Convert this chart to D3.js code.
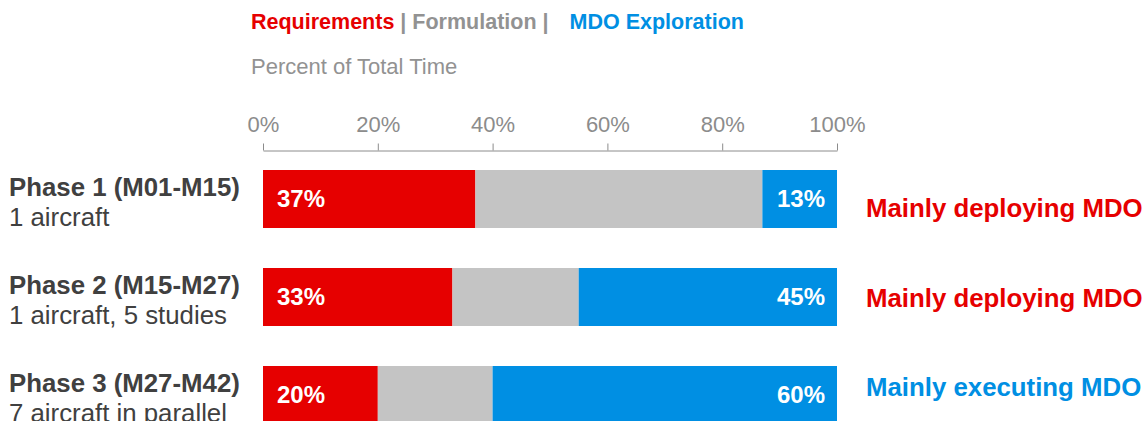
<!DOCTYPE html>
<html><head><meta charset="utf-8">
<script src="https://cdn.jsdelivr.net/npm/d3@7"></script>
<style>body{margin:0;background:#fff;}svg{display:block;font-family:"Liberation Sans",Arial,sans-serif;}</style>
</head><body><svg id="c" width="1148" height="421"></svg>
<script>
const phases = ["Phase 1 (M01-M15)", "Phase 2 (M15-M27)", "Phase 3 (M27-M42)"];
const subtitles = ["1 aircraft", "1 aircraft, 5 studies", "7 aircraft in parallel"];
const requirements = [37, 33, 20];
const formulation = [50, 22, 20];
const exploration = [13, 45, 60];
const notes = ["Mainly deploying MDO", "Mainly deploying MDO", "Mainly executing MDO"];
const noteSeries = ["Requirements", "Requirements", "MDO Exploration"];
const seriesNames = ["Requirements", "Formulation", "MDO Exploration"];
const tickValues = [0, 20, 40, 60, 80, 100];

const colors = {"Requirements": "#e60000", "Formulation": "#c4c4c4", "MDO Exploration": "#008fe3"};
const svg = d3.select("#c");

const x = d3.scaleLinear().domain([0, 100]).range([263, 837]);
const y = d3.scaleBand().domain(phases).range([170, 464]).paddingInner(40/98).paddingOuter(20/98).align(0);

// legend
const leg = svg.append("text").attr("x", 251).attr("y", 29).attr("font-size", 21.5).attr("font-weight", "bold").attr("xml:space", "preserve");
leg.append("tspan").attr("fill", colors["Requirements"]).text("Requirements");
leg.append("tspan").attr("fill", "#929292").text(" | Formulation | ");
leg.append("tspan").attr("fill", colors["MDO Exploration"]).attr("dx", 15).text("MDO Exploration");
svg.append("text").attr("x", 251).attr("y", 74).attr("font-size", 22).attr("fill", "#929292").text("Percent of Total Time");

// axis
const axis = d3.axisTop(x).tickValues(tickValues).tickFormat(d => d + "%").tickSize(7).tickSizeOuter(0);
const ag = svg.append("g").attr("transform", "translate(0,150.5)").call(axis);
ag.select(".domain").attr("stroke", "#8c8c8c");
ag.selectAll(".tick line").attr("stroke", "#8c8c8c");
ag.selectAll(".tick text").attr("fill", "#8c8c8c").attr("font-size", 22).attr("font-family", "Liberation Sans, Arial, sans-serif").attr("dy", 0).attr("y", -19);

// stacked data
const rows = phases.map((p, i) => ({phase: p, "Requirements": requirements[i], "Formulation": formulation[i], "MDO Exploration": exploration[i]}));
const stack = d3.stack().keys(seriesNames)(rows);

svg.append("g").selectAll("g").data(stack).join("g")
  .attr("fill", d => colors[d.key])
  .selectAll("rect").data(d => d).join("rect")
  .attr("x", d => x(d[0]))
  .attr("width", d => x(d[1]) - x(d[0]))
  .attr("y", d => y(d.data.phase))
  .attr("height", y.bandwidth());

// value labels
const lab = svg.append("g").attr("font-size", 24).attr("font-weight", "bold").attr("fill", "#fff");
lab.selectAll("text.l").data(phases).join("text").attr("class", "l")
  .attr("x", x(0) + 14).attr("y", p => y(p) + 37)
  .text((p, i) => requirements[i] + "%");
lab.selectAll("text.r").data(phases).join("text").attr("class", "r")
  .attr("x", x(100) - 12).attr("text-anchor", "end").attr("y", p => y(p) + 37)
  .text((p, i) => exploration[i] + "%");

// left labels
const left = svg.append("g").attr("fill", "#404040");
left.selectAll("text.t").data(phases).join("text").attr("class", "t")
  .attr("x", 9).attr("y", p => y(p) + 26).attr("font-size", 25.8).attr("font-weight", "bold").text(p => p);
left.selectAll("text.s").data(phases).join("text").attr("class", "s")
  .attr("x", 9).attr("y", p => y(p) + 56).attr("font-size", 25.8).text((p, i) => subtitles[i]);

// right notes
svg.append("g").selectAll("text").data(phases).join("text")
  .attr("x", 866).attr("y", (p, i) => y(p) + [47, 39, 30][i])
  .attr("font-size", 25.8).attr("font-weight", "bold")
  .attr("fill", (p, i) => colors[noteSeries[i]]).text((p, i) => notes[i]);
</script></body></html>
